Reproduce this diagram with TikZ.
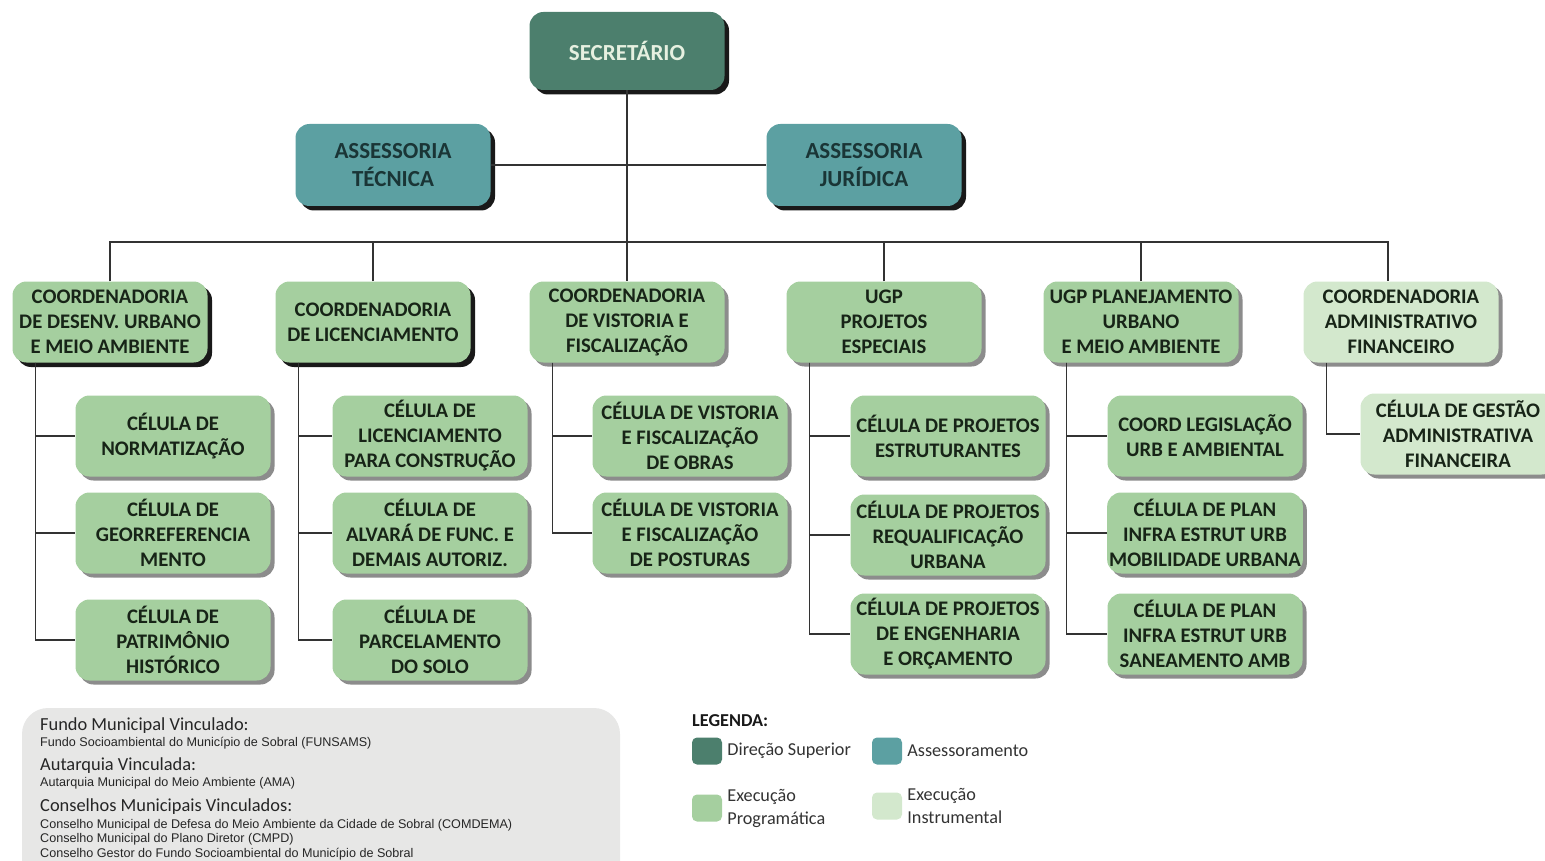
\documentclass[tikz,border=0pt]{standalone}
\usepackage{fontspec}
\setmainfont{Carlito}
\newfontfamily\arialfont{Liberation Sans}
\usetikzlibrary{shadows}

\definecolor{dirSup}{HTML}{4C7F6D}
\definecolor{assessor}{HTML}{5CA0A2}
\definecolor{execProg}{HTML}{A5CF9F}
\definecolor{execInst}{HTML}{D3E8CD}
\definecolor{fundoCinza}{HTML}{E7E7E6}
\definecolor{textoEsc}{HTML}{172417}
\definecolor{textoCla}{HTML}{E6F0E0}
\definecolor{textoAss}{HTML}{1A3536}

\tikzset{
    caixa/.style={rounded corners=14pt, minimum width=195pt, minimum height=81pt,
        align=center, inner sep=2pt, text=textoEsc,
        font=\fontsize{20.7}{25}\selectfont\bfseries},
    topo/.style={caixa, font=\fontsize{23}{28}\selectfont\bfseries},
    sombraEsc/.style={drop shadow={shadow xshift=4.5pt, shadow yshift=-4.5pt, fill=black!90, opacity=1}},
    sombraCla/.style={drop shadow={shadow xshift=4pt, shadow yshift=-4pt, fill=black!45, opacity=1}},
    ligacao/.style={draw=black!80, line width=1.4pt},
    amostra/.style={rounded corners=5pt, minimum width=30pt, minimum height=27pt, inner sep=0pt},
    legtexto/.style={anchor=west, align=left, text=black!80, inner sep=0pt,
        font=\fontsize{18.2}{23}\selectfont},
}

\begin{document}
\begin{tikzpicture}[x=1pt, y=-1pt]
    \def\linhaCoord{322}
    \def\recuo{23pt}

    \useasboundingbox (0,0) rectangle (1545,861);

    %direcao e assessoramento
    \node[topo, fill=dirSup, text=textoCla, sombraEsc, minimum height=78pt]
        (secretario) at (627,51) {SECRETÁRIO};
    \node[topo, fill=assessor, text=textoAss, sombraEsc, minimum height=82pt]
        (asTec) at (393,165) {ASSESSORIA\\TÉCNICA};
    \node[topo, fill=assessor, text=textoAss, sombraEsc, minimum height=82pt]
        (asJur) at (864,165) {ASSESSORIA\\JURÍDICA};

    %coordenadorias
    \node[caixa, fill=execProg, sombraEsc] (c1) at (110,\linhaCoord)
        {COORDENADORIA\\DE DESENV. URBANO\\E MEIO AMBIENTE};
    \node[caixa, fill=execProg, sombraEsc] (c2) at (373,\linhaCoord)
        {COORDENADORIA\\DE LICENCIAMENTO};
    \foreach \nome/\x/\cor/\texto in {
        c3/627/execProg/{COORDENADORIA\\DE VISTORIA E\\FISCALIZAÇÃO},
        c4/884/execProg/{UGP\\PROJETOS\\ESPECIAIS},
        c5/1141/execProg/{UGP PLANEJAMENTO\\URBANO\\E MEIO AMBIENTE},
        c6/1401/execInst/{COORDENADORIA\\ADMINISTRATIVO\\FINANCEIRO}%
    } {
        \node[caixa, fill=\cor, sombraCla] (\nome) at (\x,\linhaCoord) {\texto};
    }

    \coordinate (barra) at (627,242);
    \draw[ligacao] (secretario.south) -- (c3.north);
    \draw[ligacao] (asTec.east) -- (asJur.west);
    \draw[ligacao] (c1.north) |- (barra) -| ([xshift=-13pt]c6.north);
    \foreach \nome in {c2, c4, c5} {
        \draw[ligacao] (\nome.north) -- (\nome.north |- barra);
    }

    %celulas
    \foreach \pai/\nome/\x/\y/\cor/\texto in {
        c1/c1a/173/436/execProg/{CÉLULA DE\\NORMATIZAÇÃO},
        c1/c1b/173/533/execProg/{CÉLULA DE\\GEORREFERENCIA\\MENTO},
        c1/c1c/173/640/execProg/{CÉLULA DE\\PATRIMÔNIO\\HISTÓRICO},
        c2/c2a/430/436/execProg/{CÉLULA DE\\LICENCIAMENTO\\PARA CONSTRUÇÃO},
        c2/c2b/430/533/execProg/{CÉLULA DE\\ALVARÁ DE FUNC. E\\DEMAIS AUTORIZ.},
        c2/c2c/430/640/execProg/{CÉLULA DE\\PARCELAMENTO\\DO SOLO},
        c3/c3a/690/436/execProg/{CÉLULA DE VISTORIA\\E FISCALIZAÇÃO\\DE OBRAS},
        c3/c3b/690/533/execProg/{CÉLULA DE VISTORIA\\E FISCALIZAÇÃO\\DE POSTURAS},
        c4/c4a/948/436/execProg/{CÉLULA DE PROJETOS\\ESTRUTURANTES},
        c4/c4b/948/535/execProg/{CÉLULA DE PROJETOS\\REQUALIFICAÇÃO\\URBANA},
        c4/c4c/948/634/execProg/{CÉLULA DE PROJETOS\\DE ENGENHARIA\\E ORÇAMENTO},
        c5/c5a/1205/436/execProg/{COORD LEGISLAÇÃO\\URB E AMBIENTAL},
        c5/c5b/1205/533/execProg/{CÉLULA DE PLAN\\INFRA ESTRUT URB\\MOBILIDADE URBANA},
        c5/c5c/1205/634/execProg/{CÉLULA DE PLAN\\INFRA ESTRUT URB\\SANEAMENTO AMB},
        c6/c6a/1458/434/execInst/{CÉLULA DE GESTÃO\\ADMINISTRATIVA\\FINANCEIRA}%
    } {
        \node[caixa, fill=\cor, sombraCla] (\nome) at (\x,\y) {\texto};
        \draw[ligacao] ([xshift=\recuo]\pai.south west) |- (\nome.west);
    }

    %entidades vinculadas
    \fill[fundoCinza, rounded corners=26pt] (22,708) rectangle (620,890);
    \foreach \nome/\y/\texto in {
        fv1/730/{Fundo Municipal Vinculado:},
        fv2/770/{Autarquia Vinculada:},
        fv3/811/{Conselhos Municipais Vinculados:}%
    } {
        \node[anchor=base west, inner sep=0pt, text=black!85,
            font=\fontsize{18.4}{20}\selectfont] (\nome) at (40,\y) {\texto};
    }
    \foreach \nome/\y/\texto in {
        dv1/746/{Fundo Socioambiental do Município de Sobral (FUNSAMS)},
        dv2/786/{Autarquia Municipal do Meio Ambiente (AMA)},
        dv3/828/{Conselho Municipal de Defesa do Meio Ambiente da Cidade de Sobral (COMDEMA)},
        dv4/842/{Conselho Municipal do Plano Diretor (CMPD)},
        dv5/857/{Conselho Gestor do Fundo Socioambiental do Município de Sobral}%
    } {
        \node[anchor=base west, inner sep=0pt, text=black!85,
            font=\arialfont\fontsize{12.6}{14}\selectfont] (\nome) at (40,\y) {\texto};
    }

    %legenda
    \node[anchor=west, inner sep=0pt, text=black!90, font=\fontsize{18.2}{20}\selectfont\bfseries]
        (legenda) at (692,721) {LEGENDA:};
    \foreach \nome/\x/\y/\cor/\texto in {
        lg1/707/751/dirSup/{Direção Superior},
        lg2/887/751/assessor/{Assessoramento},
        lg3/707/808/execProg/{Execução\\Programática},
        lg4/887/806/execInst/{Execução\\Instrumental}%
    } {
        \node[amostra, fill=\cor] (\nome) at (\x,\y) {};
        \node[legtexto] (\nome t) at ([xshift=5pt]\nome.east) {\texto};
    }
\end{tikzpicture}
\end{document}
